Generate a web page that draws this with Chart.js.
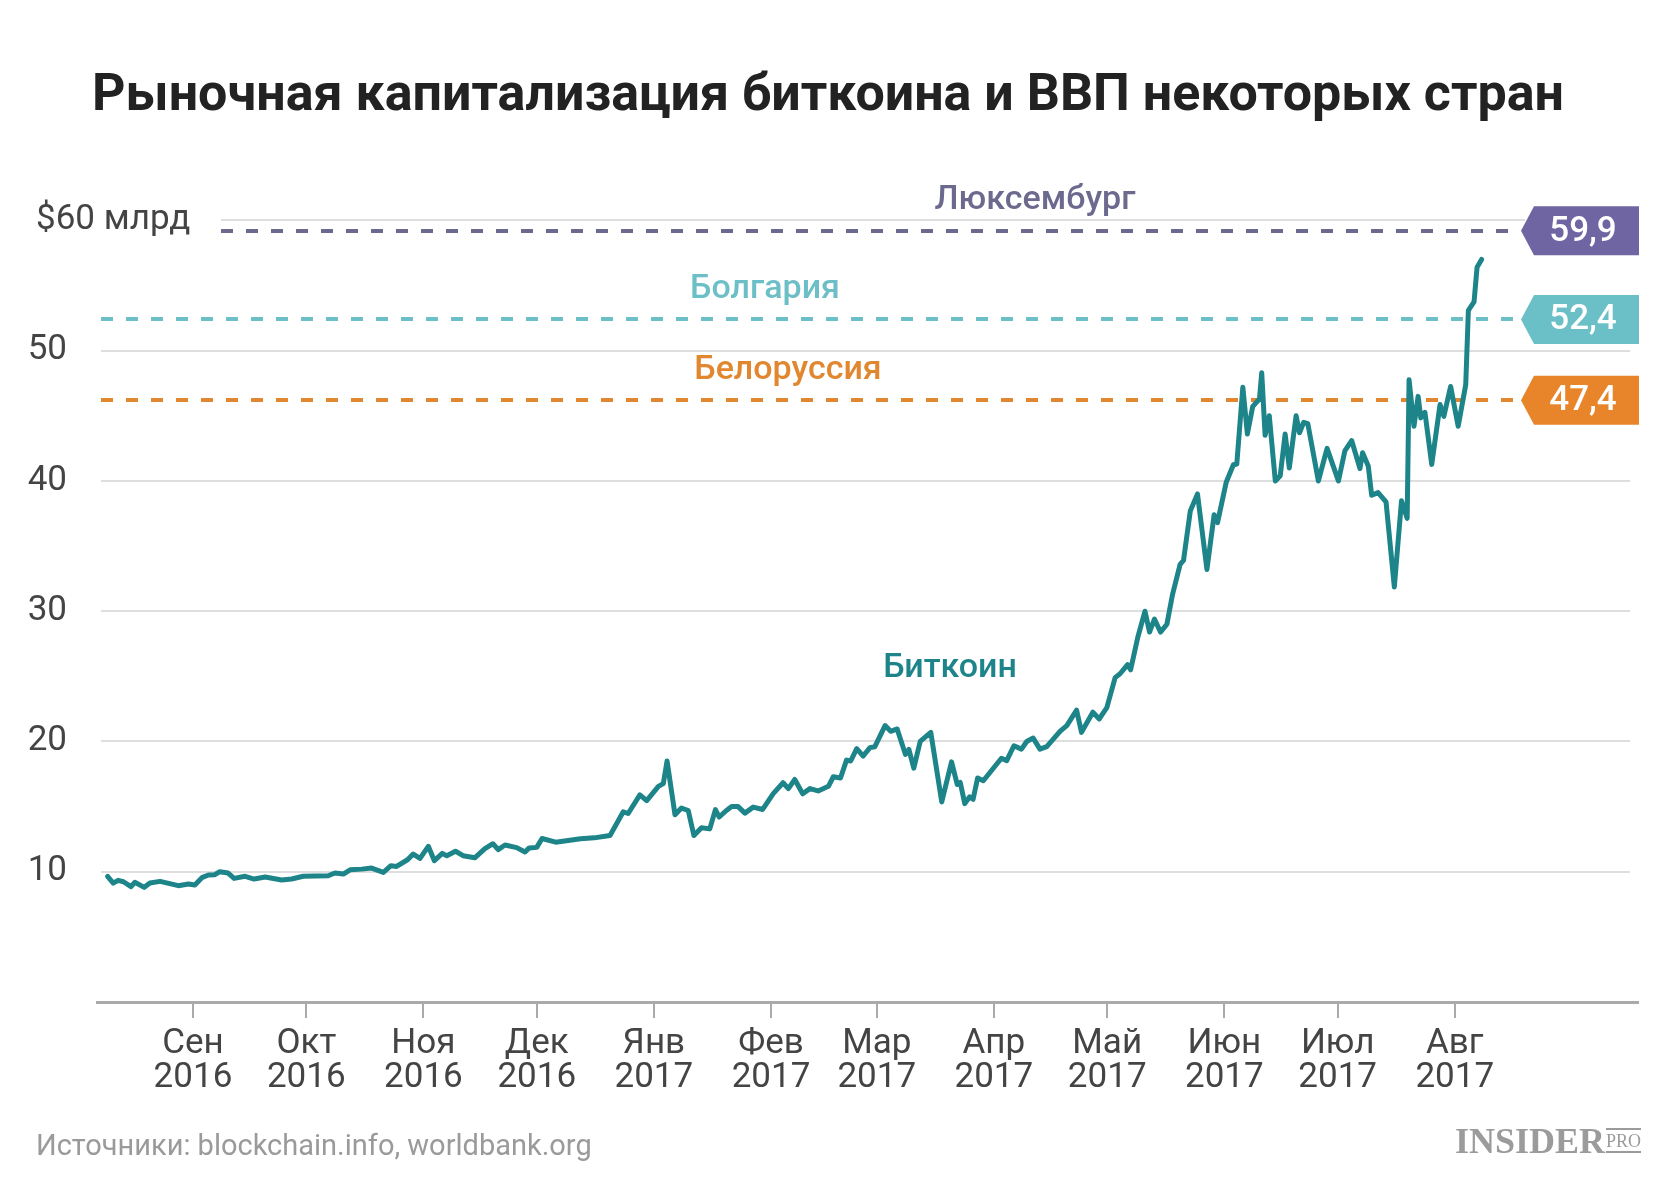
<!DOCTYPE html>
<html lang="ru">
<head>
<meta charset="utf-8">
<title>Рыночная капитализация биткоина и ВВП некоторых стран</title>
<script src="https://cdn.jsdelivr.net/npm/chart.js@4.4.1/dist/chart.umd.min.js"></script>
<style>
  html, body { margin: 0; padding: 0; background: #fff; }
  #chart { display: block; }
</style>
</head>
<body>
<canvas id="chart" width="1668" height="1179"></canvas>
<script>
// days since 1 Aug 2016
const days = [8.4, 9.9, 11.2, 12.6, 14.6, 15.6, 18.1, 19.6, 22.3, 27.1,
  29.8, 31.5, 33.5, 35.1, 36.8, 38.1, 40.3, 41.9, 44.8, 47.2,
  50.1, 54.5, 57.1, 60.2, 66.8, 68.6, 70.8, 72.6, 75.7, 78.3,
  81.4, 83.4, 84.9, 87.8, 89.3, 91.1, 93.3, 94.9, 97.0, 98.2,
  100.5, 102.5, 105.6, 108.2, 110.4, 111.8, 113.6, 116.7, 118.9, 120.0,
  122.0, 123.4, 127.0, 133.6, 137.2, 141.4, 144.9, 146.2, 149.3, 151.1,
  154.2, 155.5, 156.5, 158.6, 160.3, 162.1, 163.6, 165.6, 167.8, 169.3,
  170.3, 172.2, 173.6, 175.3, 177.1, 179.3, 181.8, 184.6, 187.2, 188.6,
  190.3, 192.4, 194.3, 196.5, 199.2, 200.5, 202.4, 204.0, 205.1, 206.7,
  208.4, 210.2, 211.5, 214.2, 215.7, 217.4, 219.6, 220.5, 221.8, 223.5,
  226.3, 229.2, 231.8, 233.3, 234.1, 235.3, 236.6, 237.5, 238.7, 240.2,
  245.0, 246.4, 248.3, 250.3, 251.7, 253.4, 255.2, 257.0, 260.5, 262.3,
  264.9, 266.2, 269.2, 270.9, 272.9, 275.1, 276.4, 278.4, 279.2, 281.1,
  283.0, 284.2, 285.5, 287.1, 288.8, 290.3, 292.3, 293.2, 295.0, 296.9,
  299.4, 301.3, 302.2, 304.5, 306.4, 307.3, 308.9, 310.1, 311.5, 313.3,
  313.9, 314.8, 315.9, 317.5, 318.8, 320.1, 321.2, 323.0, 323.9, 325.0,
  326.1, 328.9, 331.2, 334.2, 335.9, 337.7, 339.9, 340.6, 342.1, 343.0,
  344.7, 346.8, 349.0, 350.9, 352.4, 352.9, 354.2, 355.3, 356.0, 357.1,
  358.9, 361.1, 362.1, 363.9, 365.9, 367.9, 368.6, 370.1, 370.9, 372.1];

// bitcoin market cap, $ bn
const btcCap = [9.65, 9.13, 9.34, 9.23, 8.85, 9.19, 8.80, 9.13, 9.26, 8.93,
  9.06, 8.98, 9.57, 9.75, 9.77, 10.0, 9.90, 9.49, 9.65, 9.44,
  9.59, 9.36, 9.44, 9.65, 9.69, 9.90, 9.82, 10.15, 10.2, 10.28,
  9.95, 10.46, 10.41, 10.92, 11.36, 11.03, 11.95, 10.85, 11.41, 11.23,
  11.57, 11.23, 11.07, 11.75, 12.15, 11.7, 12.05, 11.85, 11.52, 11.83,
  11.87, 12.55, 12.27, 12.53, 12.6, 12.78, 14.6, 14.47, 15.9, 15.46,
  16.55, 16.76, 18.5, 14.37, 14.89, 14.7, 12.78, 13.37, 13.29, 14.77,
  14.2, 14.7, 15.0, 15.0, 14.5, 14.96, 14.78, 15.99, 16.83, 16.38,
  17.08, 15.98, 16.38, 16.2, 16.56, 17.29, 17.2, 18.57, 18.5, 19.45,
  18.88, 19.53, 19.6, 21.22, 20.78, 20.96, 19.0, 19.4, 17.95, 20.0,
  20.7, 15.36, 18.43, 16.7, 16.85, 15.23, 15.75, 15.56, 17.2, 16.98,
  18.71, 18.53, 19.67, 19.41, 20.0, 20.26, 19.41, 19.61, 20.78, 21.22,
  22.4, 20.7, 22.25, 21.73, 22.6, 24.9, 25.2, 25.9, 25.5, 28.0,
  30.0, 28.4, 29.4, 28.4, 29.0, 31.3, 33.6, 33.9, 37.7, 39.0,
  33.2, 37.4, 36.8, 39.9, 41.24, 41.3, 47.2, 43.6, 45.7, 46.3,
  48.3, 43.5, 45.0, 40.0, 40.4, 43.6, 41.0, 45.0, 43.7, 44.5,
  44.4, 40.0, 42.5, 40.0, 42.3, 43.1, 40.95, 42.17, 41.15, 38.9,
  39.1, 38.4, 31.86, 38.47, 37.13, 47.76, 44.2, 46.49, 44.84, 45.27,
  41.27, 45.86, 44.96, 47.25, 44.2, 47.38, 53.1, 53.74, 56.4, 57.0];

// month ticks (first day of month, days since 1 Aug 2016)
const monthTicks = [31, 61, 92, 122, 153, 184, 212, 243, 273, 304, 334, 365];
const monthNames = ['Сен', 'Окт', 'Ноя', 'Дек', 'Янв', 'Фев', 'Мар', 'Апр', 'Май', 'Июн', 'Июл', 'Авг'];
const monthYears = ['2016', '2016', '2016', '2016', '2017', '2017', '2017', '2017', '2017', '2017', '2017', '2017'];

const yTicks = [10, 20, 30, 40, 50, 60];
const yTopLabel = '$60 млрд';

// GDP reference lines (level drawn on chart) and their tag text
const countries = ['Люксембург', 'Болгария', 'Белоруссия'];
const gdpLevel = [59.2, 52.4, 46.2];
const gdpTags = ['59,9', '52,4', '47,4'];

const lineColors = ['#6c698f', '#6cbfc6', '#e0872f'];
const tagColors = ['#6e65a2', '#6bc0c8', '#e8852a'];
const labelCenterX = [1035, 765, 788];

Chart.defaults.font.family = 'Roboto';

const overlay = {
  id: 'overlay',
  beforeDatasetsDraw(chart) {
    const { ctx, chartArea: a, scales: { y } } = chart;
    ctx.save();
    // horizontal grid
    ctx.strokeStyle = '#dedede';
    ctx.lineWidth = 2;
    yTicks.forEach(v => {
      const py = Math.round(y.getPixelForValue(v));
      const x0 = v === 60 ? 221 : a.left + 4;
      const x1 = v === 60 ? 1525 : a.right - 8;
      ctx.beginPath();
      ctx.moveTo(x0, py);
      ctx.lineTo(x1, py);
      ctx.stroke();
    });
    // GDP dashed lines
    ctx.lineWidth = 4;
    ctx.setLineDash([12, 13]);
    gdpLevel.forEach((v, i) => {
      const py = Math.round(y.getPixelForValue(v));
      ctx.strokeStyle = lineColors[i];
      ctx.beginPath();
      ctx.moveTo(i === 0 ? 221 : a.left + 4, py);
      ctx.lineTo(1521, py);
      ctx.stroke();
    });
    ctx.restore();
  },
  afterDraw(chart) {
    const { ctx, scales: { x, y } } = chart;
    ctx.save();
    // top y label runs past the axis box, so it is drawn here
    ctx.textAlign = 'left';
    ctx.textBaseline = 'middle';
    ctx.fillStyle = '#444';
    ctx.font = '35px Roboto';
    ctx.fillText(yTopLabel, 36, y.getPixelForValue(60));

    ctx.textAlign = 'center';
    gdpLevel.forEach((v, i) => {
      const py = y.getPixelForValue(v);
      // country name
      ctx.fillStyle = lineColors[i];
      ctx.font = '500 34px Roboto';
      ctx.fillText(countries[i], labelCenterX[i], py - 30);
      // value tag
      const top = py - 24.5, bot = py + 24.5;
      ctx.fillStyle = tagColors[i];
      ctx.beginPath();
      ctx.moveTo(1521, py);
      ctx.lineTo(1534, top);
      ctx.lineTo(1639, top);
      ctx.lineTo(1639, bot);
      ctx.lineTo(1534, bot);
      ctx.closePath();
      ctx.fill();
      ctx.fillStyle = '#fff';
      ctx.font = '500 35px Roboto';
      ctx.fillText(gdpTags[i], 1583, py + 1);
    });
    // series label
    ctx.fillStyle = '#1d8489';
    ctx.font = '500 34px Roboto';
    ctx.fillText('Биткоин', x.getPixelForValue(231.4), y.getPixelForValue(25.6));

    // source
    ctx.textAlign = 'left';
    ctx.fillStyle = '#9a9a9a';
    ctx.font = '29px Roboto';
    ctx.fillText('Источники: blockchain.info, worldbank.org', 36, 1148);

    // logo
    ctx.textBaseline = 'alphabetic';
    ctx.fillStyle = '#9b9b9b';
    ctx.font = 'bold 36px "Liberation Serif"';
    ctx.fillText('INSIDER', 1455, 1153);
    ctx.font = '18px "Liberation Serif"';
    ctx.fillText('PRO', 1606, 1147);
    ctx.fillRect(1606, 1128, 35, 2);
    ctx.fillRect(1606, 1151, 35, 2);
    ctx.restore();
  }
};

new Chart(document.getElementById('chart'), {
  type: 'line',
  data: {
    datasets: [{
      label: 'Биткоин',
      data: days.map((d, i) => ({ x: d, y: btcCap[i] })),
      borderColor: '#1d8489',
      borderWidth: 5,
      pointRadius: 0,
      tension: 0,
      borderJoinStyle: 'round',
      borderCapStyle: 'round',
      fill: false
    }]
  },
  options: {
    responsive: false,
    devicePixelRatio: 1,
    animation: false,
    layout: { padding: { left: 18, right: 30, top: 0, bottom: 0 } },
    plugins: {
      legend: { display: false },
      tooltip: { enabled: false },
      title: {
        display: true,
        text: 'Рыночная капитализация биткоина и ВВП некоторых стран',
        color: '#222',
        font: { family: 'Roboto', size: 52, weight: 'bold', lineHeight: 1.2 },
        padding: { top: 66, bottom: 92 }
      }
    },
    scales: {
      x: {
        type: 'linear',
        min: 5.6,
        max: 413.5,
        afterBuildTicks(scale) {
          scale.ticks = monthTicks.map(v => ({ value: v }));
        },
        afterFit(scale) { scale.height = 177; },
        grid: {
          drawOnChartArea: false,
          drawTicks: true,
          tickLength: 16,
          color: '#aaa',
          lineWidth: 2
        },
        border: { display: true, color: '#aaa', width: 3 },
        ticks: {
          autoSkip: false,
          maxRotation: 0,
          padding: 9,
          color: '#444',
          font: { family: 'Roboto', size: 35, lineHeight: 0.97 },
          callback(v) {
            const i = monthTicks.indexOf(v);
            return i < 0 ? '' : [monthNames[i], monthYears[i]];
          }
        }
      },
      y: {
        min: 0,
        max: 60,
        afterBuildTicks(scale) {
          scale.ticks = yTicks.map(v => ({ value: v }));
        },
        afterFit(scale) { scale.width = 79; },
        grid: { display: false },
        border: { display: false },
        ticks: {
          crossAlign: 'near',
          padding: 22,
          color: '#444',
          font: { family: 'Roboto', size: 35 },
          callback(v) { return v === 60 ? '' : String(v); }
        }
      }
    }
  },
  plugins: [overlay]
});
</script>
</body>
</html>
